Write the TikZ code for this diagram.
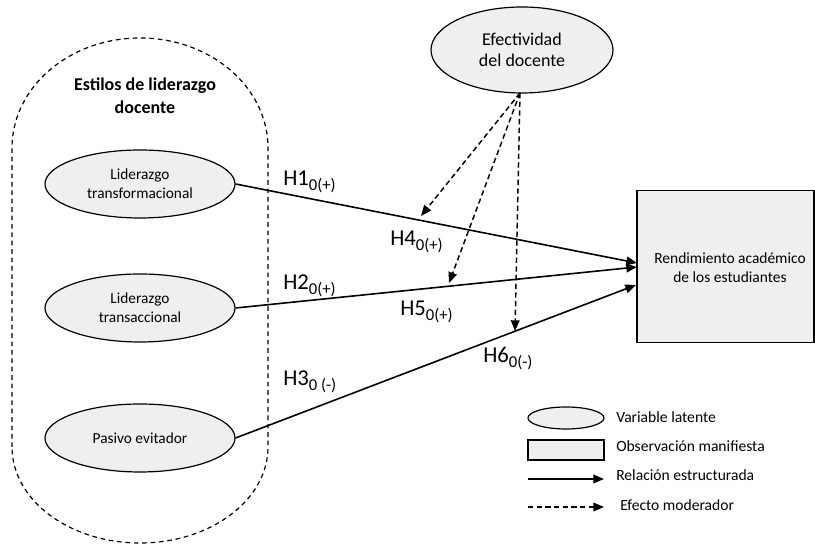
\documentclass[tikz,border=0pt]{standalone}
\usepackage{fontspec}
\setmainfont{Carlito}
\usetikzlibrary{shapes.geometric,arrows.meta}
\definecolor{fillgray}{HTML}{EFEFEF}
\newcommand{\hyp}[2]{H#1\raisebox{-0.45ex}{\fontsize{12.5}{12.5}\selectfont #2}}
\begin{document}
\begin{tikzpicture}[x=0.75pt,y=0.75pt,
  latent/.style={ellipse,draw,fill=fillgray,line width=0.9pt,inner sep=0pt,align=center},
  manifest/.style={rectangle,draw,fill=fillgray,line width=0.9pt,inner sep=0pt,align=center},
  struct/.style={line width=1.2pt,-{Triangle[length=8pt,width=6.5pt]}},
  moder/.style={line width=1.1pt,dash pattern=on 4pt off 2.5pt,-{Triangle[length=8pt,width=6.5pt]}},
  hlabel/.style={anchor=base west,inner sep=0pt,font=\fontsize{17}{17}\selectfont},
  legtext/.style={anchor=west,inner sep=0pt,font=\fontsize{11.7}{13}\selectfont}]
\useasboundingbox (0,0) rectangle (815,545);
% container
\draw[line width=0.9pt,dash pattern=on 3.5pt off 2.8pt]
  (12,98) -- (12,397) arc[start angle=180,end angle=0,x radius=128,y radius=110]
  -- (268,98) arc[start angle=0,end angle=-180,x radius=128,y radius=96] -- cycle;
\node[align=center,font=\bfseries\fontsize{13.5}{17}\selectfont] (title) at (145,449) {Estilos de liderazgo\\docente};
% latent variables
\node[latent,minimum width=142.5pt,minimum height=51pt,font=\fontsize{11.5}{14}\selectfont] (e1) at (140,361) {Liderazgo\\transformacional};
\node[latent,minimum width=142.5pt,minimum height=51pt,font=\fontsize{11.5}{14}\selectfont] (e2) at (140,237) {Liderazgo\\transaccional};
\node[latent,minimum width=142.5pt,minimum height=51pt,font=\fontsize{11.5}{14}\selectfont] (e3) at (140,107) {Pasivo evitador};
\node[latent,minimum width=136.5pt,minimum height=64.5pt,font=\fontsize{13.5}{16}\selectfont] (ef) at (522,495) {Efectividad\\del docente};
% manifest
\node[manifest,minimum width=132.75pt,minimum height=114pt] (box) at (725.5,278.5) {};
\node[align=center,font=\fontsize{11.6}{14.3}\selectfont,inner sep=0pt] (boxtext) at (730,277.5) {Rendimiento académico\\de los estudiantes};
% arrow targets
\coordinate (t1) at (637,282);
\coordinate (t2) at (637,278);
\coordinate (t3) at (636,260);
\draw[struct] (e1.east) -- (t1);
\draw[struct] (e2.east) -- (t2);
\draw[struct] (e3.east) -- (t3);
% moderation
\coordinate (src) at (520,452);
\coordinate (m1) at (421,329);
\coordinate (m2) at (449,262);
\coordinate (m3) at (515,214);
\draw[moder] (src) -- (m1);
\draw[moder] (src) -- (m2);
\draw[moder] (src) -- (m3);
% hypothesis labels
\node[hlabel] (h1) at (283,359) {\hyp{1}{0(+)}};
\node[hlabel] (h2) at (283,255) {\hyp{2}{0(+)}};
\node[hlabel] (h3) at (283,159) {\hyp{3}{0 (-)}};
\node[hlabel] (h4) at (390,299) {\hyp{4}{0(+)}};
\node[hlabel] (h5) at (400,229) {\hyp{5}{0(+)}};
\node[hlabel] (h6) at (483,182) {\hyp{6}{0(-)}};
% legend
\node[latent,minimum width=57pt,minimum height=16.5pt] (lg1) at (566,127) {};
\node[manifest,minimum width=57pt,minimum height=15pt] (lg2) at (566,95) {};
\coordinate (ls1) at (528,66);
\coordinate (le1) at (604,66);
\coordinate (ls2) at (528,38);
\coordinate (le2) at (604,38);
\draw[struct] (ls1) -- (le1);
\draw[moder] (ls2) -- (le2);
\node[legtext] (lt1) at (616,128) {Variable latente};
\node[legtext] (lt2) at (616,99) {Observación manifiesta};
\node[legtext] (lt3) at (616,70) {Relación estructurada};
\node[legtext] (lt4) at (620,40) {Efecto moderador};
\end{tikzpicture}
\end{document}
